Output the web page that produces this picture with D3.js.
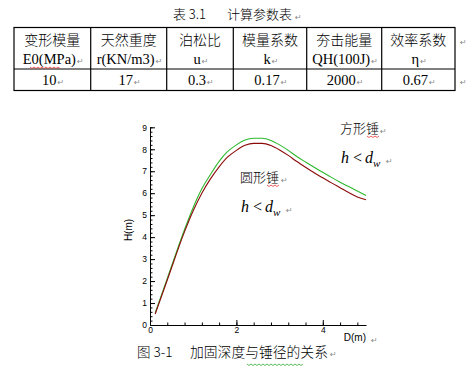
<!DOCTYPE html>
<html>
<head>
<meta charset="utf-8">
<script src="https://cdn.jsdelivr.net/npm/d3@7"></script>
<style>
  body { margin: 0; background: #fff; }
  svg { display: block; }
  text { white-space: pre; }
</style>
</head>
<body>
<div id="viz"></div>
<script>
// table data
const tableHeads = ["变形模量", "天然重度", "泊松比", "模量系数", "夯击能量", "效率系数"];
const tableUnits = ["E0(MPa)", "r(KN/m3)", "u", "k", "QH(100J)", "η"];
const tableValues = ["10", "17", "0.3", "0.17", "2000", "0.67"];

// curve data
const depthD = [0.12, 0.4, 0.8, 1.0, 1.2, 1.4, 1.6, 1.8, 2.0, 2.2, 2.4, 2.6, 2.8, 3.0, 3.2, 3.4, 3.6, 3.8, 4.0, 4.2, 4.4, 4.6, 4.8, 5.0];
const squareH = [0.55, 2.12, 4.35, 5.35, 6.2, 6.85, 7.45, 7.9, 8.2, 8.42, 8.5, 8.5, 8.4, 8.2, 7.95, 7.67, 7.42, 7.18, 6.95, 6.72, 6.5, 6.3, 6.1, 5.9];
const roundH = [0.5, 2.05, 4.25, 5.2, 6.0, 6.65, 7.2, 7.65, 7.95, 8.18, 8.27, 8.27, 8.17, 7.97, 7.72, 7.44, 7.18, 6.93, 6.7, 6.47, 6.25, 6.03, 5.83, 5.7];

const xMajor = [0, 2, 4];
const yMajor = [0, 1, 2, 3, 4, 5, 6, 7, 8, 9];

const width = 476, height = 377;
const svg = d3.select("#viz").append("svg")
  .attr("width", width).attr("height", height)
  .attr("viewBox", [0, 0, width, height]);

const cjk = "'Noto Sans CJK SC', sans-serif";
const serif = "'Liberation Serif', 'Times New Roman', serif";
const sans = "'Liberation Sans', Arial, sans-serif";
const markColor = "#888";

function mark(x0, yb) {
  svg.append("text").attr("x", x0).attr("y", yb).attr("font-family", "DejaVu Sans")
    .attr("font-size", 8).attr("fill", markColor).text("↵");
}

function wavy(x0, x1, y, color) {
  let d = `M${x0},${y}`;
  for (let x = x0, k = 0; x < x1; x += 2, k++) {
    d += `L${x + 2},${y + (k % 2 ? 0 : 1.5)}`;
  }
  svg.append("path").attr("d", d).attr("fill", "none")
    .attr("stroke", color).attr("stroke-width", 0.8);
}

// title
svg.append("text").attr("x", 173).attr("y", 19).attr("font-family", cjk).attr("font-size", 13)
  .attr("font-weight", 300).text("表 3.1");
svg.append("text").attr("x", 227).attr("y", 19).attr("font-family", cjk).attr("font-size", 13)
  .attr("font-weight", 300).text("计算参数表");
mark(295, 20);

// table
const colEdges = [14, 90.7, 166.7, 233.3, 306.7, 381.7, 455];
const rowTop = 27.5, rowMid = 69, rowBot = 90.5;
const tbl = svg.append("g").attr("stroke", "#000").attr("stroke-width", 1.2);
tbl.append("rect").attr("x", colEdges[0]).attr("y", rowTop)
  .attr("width", colEdges[6] - colEdges[0]).attr("height", rowBot - rowTop).attr("fill", "none");
tbl.append("line").attr("x1", colEdges[0]).attr("x2", colEdges[6]).attr("y1", rowMid).attr("y2", rowMid);
tbl.selectAll(".col").data(colEdges.slice(1, 6)).join("line")
  .attr("x1", d => d).attr("x2", d => d).attr("y1", rowTop).attr("y2", rowBot);

const cellX = tableHeads.map((_, i) => (colEdges[i] + colEdges[i + 1]) / 2);
svg.append("g").selectAll("text").data(tableHeads).join("text")
  .attr("x", (d, i) => cellX[i]).attr("y", 45).attr("text-anchor", "middle")
  .attr("font-family", cjk).attr("font-weight", 300).attr("font-size", 14).text(d => d);

function rowWithMarks(values, y) {
  const g = svg.append("g");
  values.forEach((v, i) => {
    const t = g.append("text").attr("x", cellX[i] - 3).attr("y", y).attr("text-anchor", "middle")
      .attr("font-family", serif).attr("font-size", 14.5).text(v);
    const w = t.node().getComputedTextLength();
    mark(cellX[i] - 3 + w / 2 + 1, y);
  });
}
rowWithMarks(tableUnits, 64);
rowWithMarks(tableValues, 85);
mark(460, 45);
mark(460, 85);
wavy(30, 60, 67, "#e33");

// chart
const x = d3.scaleLinear().domain([0, 5]).range([150, 366]);
const y = d3.scaleLinear().domain([0, 9]).range([325, 127.3]);

const tickFont = g => g.attr("font-family", sans).attr("font-size", 8.5);

svg.append("g").attr("transform", `translate(0,${y(0)})`)
  .call(d3.axisBottom(x).tickValues(d3.range(0, 5.01, 0.4)).tickSizeInner(-2.5).tickSizeOuter(0).tickFormat(""))
  .call(g => g.select(".domain").remove());
svg.append("g").attr("transform", `translate(0,${y(0)})`)
  .call(d3.axisBottom(x).tickValues(xMajor).tickSizeInner(-5).tickSizeOuter(0).tickPadding(2).tickFormat(d3.format("d")))
  .call(tickFont);

svg.append("g").attr("transform", `translate(${x(0)},0)`)
  .call(d3.axisLeft(y).tickValues(d3.range(0, 9.01, 0.2)).tickSizeInner(-2.5).tickSizeOuter(0).tickFormat(""))
  .call(g => g.select(".domain").remove());
svg.append("g").attr("transform", `translate(${x(0)},0)`)
  .call(d3.axisLeft(y).tickValues(yMajor).tickSizeInner(-5).tickSizeOuter(0).tickPadding(3).tickFormat(d3.format("d")))
  .call(tickFont);

svg.append("text").attr("x", 366).attr("y", 341).attr("text-anchor", "end")
  .attr("font-family", sans).attr("font-size", 10).text("D(m)");
mark(371, 343);
svg.append("text").attr("transform", "translate(132,230) rotate(-90)").attr("text-anchor", "middle")
  .attr("font-family", sans).attr("font-size", 10).text("H(m)");

const line = d3.line().x(d => x(d[0])).y(d => y(d[1])).curve(d3.curveMonotoneX);
svg.append("path").datum(depthD.map((d, i) => [d, squareH[i]]))
  .attr("d", line).attr("fill", "none").attr("stroke", "#2db82d").attr("stroke-width", 1.1);
svg.append("path").datum(depthD.map((d, i) => [d, roundH[i]]))
  .attr("d", line).attr("fill", "none").attr("stroke", "#8b0a0a").attr("stroke-width", 1.1);

// annotations
function hdw(x0, yb) {
  const t = svg.append("text").attr("x", x0).attr("y", yb)
    .attr("font-family", serif).attr("font-style", "italic").attr("font-size", 16);
  t.append("tspan").text("h");
  t.append("tspan").attr("font-style", "normal").attr("dx", 4).text("<");
  t.append("tspan").attr("dx", 3).text("d");
  t.append("tspan").attr("dy", 4).attr("font-size", 11).text("w");
  mark(x0 + 45, yb + 1);
}
svg.append("text").attr("x", 340).attr("y", 133).attr("font-family", cjk)
  .attr("font-weight", 300).attr("font-size", 13).text("方形锤");
mark(380, 134);
wavy(367, 379, 136, "#e33");
hdw(341, 163);

svg.append("text").attr("x", 240).attr("y", 182).attr("font-family", cjk)
  .attr("font-weight", 300).attr("font-size", 13).text("圆形锤");
mark(281, 183);
wavy(267, 279, 185, "#e33");
hdw(241, 212);

// caption
svg.append("text").attr("x", 137).attr("y", 357).attr("font-family", cjk).attr("font-size", 13.5)
  .attr("font-weight", 300).text("图 3-1");
svg.append("text").attr("x", 190).attr("y", 357).attr("font-family", cjk).attr("font-size", 13.8)
  .attr("font-weight", 300).text("加固深度与锤径的关系");
mark(330, 357);
wavy(247, 302, 364, "#3a3");
</script>
</body>
</html>
